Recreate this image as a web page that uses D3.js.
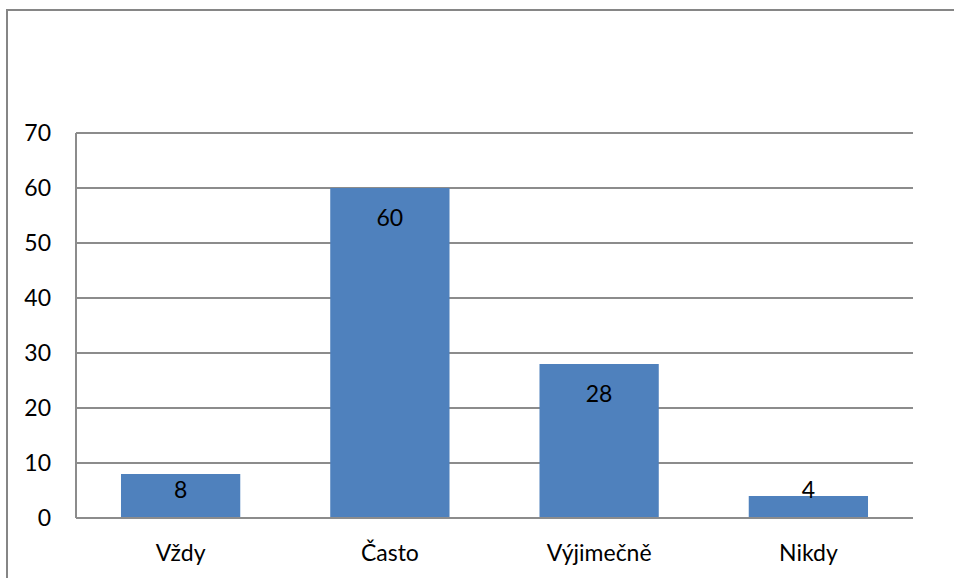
<!DOCTYPE html>
<html><head><meta charset="utf-8">
<script src="https://cdn.jsdelivr.net/npm/d3@7"></script>
<style>html,body{margin:0;padding:0;background:#fff;}svg{display:block;font-family:Lato,"Open Sans",sans-serif;}</style>
</head><body>
<script>
const categories = ["Vždy", "Často", "Výjimečně", "Nikdy"];
const values = [8, 60, 28, 4];
const yTicks = [0, 10, 20, 30, 40, 50, 60, 70];

const W = 954, H = 578;
const m = {left: 76, right: 41, top: 133, bottom: 60};
const FS = 23;
const svg = d3.select("body").append("svg").attr("width", W).attr("height", H);

// outer frame
svg.append("rect").attr("x", 7).attr("y", 10).attr("width", W + 10).attr("height", H + 10)
  .attr("fill", "none").attr("stroke", "#868686").attr("stroke-width", 2);

const x = d3.scaleBand().domain(categories).range([m.left, W - m.right]).paddingInner(0.43).paddingOuter(0.215);
const y = d3.scaleLinear().domain([0, 70]).range([H - m.bottom, m.top]);

const grid = "#8c8c8c";
// gridlines
svg.append("g").selectAll("line").data(yTicks).join("line")
  .attr("x1", m.left).attr("x2", W - m.right)
  .attr("y1", d => Math.round(y(d))).attr("y2", d => Math.round(y(d)))
  .attr("stroke", grid).attr("stroke-width", 2);

// y axis line
svg.append("line").attr("x1", m.left).attr("x2", m.left).attr("y1", y(70)).attr("y2", y(0))
  .attr("stroke", grid).attr("stroke-width", 2);

// y tick labels
svg.append("g").selectAll("text").data(yTicks).join("text")
  .attr("x", 51).attr("y", d => y(d)).attr("dy", "0.36em")
  .attr("text-anchor", "end").attr("font-size", FS).attr("fill", "#000")
  .text(d => d);

// bars
svg.append("g").selectAll("rect").data(values).join("rect")
  .attr("x", (d, i) => x(categories[i])).attr("width", x.bandwidth())
  .attr("y", d => y(d)).attr("height", d => y(0) - y(d))
  .attr("fill", "#4F81BD");

// baseline redraw over bars
svg.append("line").attr("x1", m.left).attr("x2", W - m.right).attr("y1", Math.round(y(0))).attr("y2", Math.round(y(0)))
  .attr("stroke", grid).attr("stroke-width", 2);

// value labels
svg.append("g").selectAll("text").data(values).join("text")
  .attr("x", (d, i) => x(categories[i]) + x.bandwidth() / 2)
  .attr("y", d => Math.min(y(d) + 30, y(0) - 28))
  .attr("dy", "0.36em").attr("text-anchor", "middle").attr("font-size", FS).attr("fill", "#000")
  .text(d => d);

// category labels
svg.append("g").selectAll("text").data(categories).join("text")
  .attr("x", d => x(d) + x.bandwidth() / 2).attr("y", 553).attr("dy", "0.36em")
  .attr("text-anchor", "middle").attr("font-size", FS).attr("fill", "#000")
  .text(d => d);
</script>
</body></html>
